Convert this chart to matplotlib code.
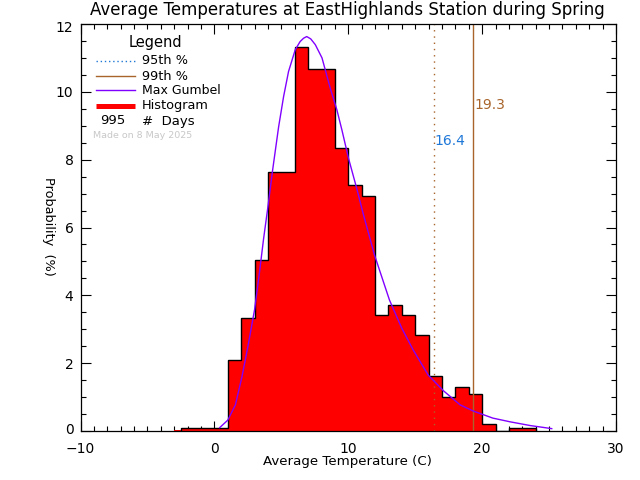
import matplotlib
matplotlib.use("Agg")
import matplotlib.pyplot as plt
from matplotlib.ticker import MultipleLocator
from matplotlib.transforms import ScaledTranslation

title = "Average Temperatures at EastHighlands Station during Spring"
bin_edges = [-3, -2.5, -2, -1, 0, 1, 2, 3, 4, 5, 6, 7, 8, 9, 10, 11, 12, 13, 14, 15, 16, 17, 18, 19, 20, 21, 22, 23, 24]
hist_vals = [0.03, 0.1, 0.1, 0.1, 0.1, 2.1, 3.32, 5.03, 7.64, 7.64, 11.32, 10.66, 10.66, 8.35, 7.24, 6.94, 3.42, 3.72, 3.42, 2.82, 1.61, 1.0, 1.3, 1.1, 0.2, 0.0, 0.1, 0.1]
gumbel_x = [0.4, 1.0, 1.57, 2.06, 2.5, 3.0, 3.36, 3.68, 4.0, 4.35, 4.8, 5.17, 5.54, 6.04, 6.4, 6.66, 6.9, 7.2, 7.54, 8.04, 8.66, 9.15, 9.53, 10.02, 10.6, 11.14, 11.96, 13.08, 14.0, 14.85, 15.97, 17.1, 18.36, 19.33, 20.8, 22.1, 23.6, 25.2]
gumbel_y = [0.1, 0.32, 0.77, 1.6, 2.48, 3.57, 4.65, 5.68, 6.61, 7.69, 8.97, 9.86, 10.6, 11.24, 11.48, 11.58, 11.63, 11.56, 11.39, 11.0, 10.1, 9.47, 8.87, 8.04, 7.2, 6.37, 5.19, 3.86, 3.03, 2.39, 1.65, 1.19, 0.77, 0.59, 0.38, 0.27, 0.16, 0.07]
p95, p99 = 16.4, 19.3
n_days = 995
made_on = "Made on 8 May 2025"
xlabel = "Average Temperature (C)"
ylabel = "Probability  (%)"

C95 = "#1f78d8"
C99 = "#a8642a"
PURPLE = "#8000ff"

W, H = 640, 480
fig = plt.figure(figsize=(6.4, 4.8), dpi=100)
L, R, T, B = 80.5, 616, 24, 431
ax = fig.add_axes([L / W, 1 - B / H, (R - L) / W, (B - T) / H])
ax.set_xlim(-10, 30)
ax.set_ylim(0, 12)

ax.stairs(hist_vals, bin_edges, fill=True, color="#ff0000", lw=0, zorder=2)
ax.stairs(hist_vals[1:], bin_edges[1:], fill=False, color="black", lw=1.0, zorder=3, baseline=0)
ax.axvline(p95, color=C99, ls=(0, (1, 3.5)), lw=1.0, zorder=4)
ax.axvline(p99, color=C99, lw=1.0, zorder=4)
ax.plot(gumbel_x, gumbel_y, color=PURPLE, lw=1.0, zorder=5)

ax.xaxis.set_major_locator(MultipleLocator(10))
ax.xaxis.set_minor_locator(MultipleLocator(1))
ax.yaxis.set_major_locator(MultipleLocator(2))
ax.yaxis.set_minor_locator(MultipleLocator(0.5))
ax.tick_params(which="major", length=7.5, width=0.8, top=True, right=True, direction="in", labelsize=10, pad=5)
ax.tick_params(which="minor", length=3.5, width=0.8, top=True, right=True, direction="in")
ax.tick_params(axis="x", which="major", pad=8)
for s in ax.spines.values():
    s.set_linewidth(0.9)
    s.set_zorder(6)
fig.canvas.draw()
for lab in ax.get_yticklabels():
    shift = {"0": 3, "12": -3}.get(lab.get_text(), 0)
    if shift:
        lab.set_transform(lab.get_transform() + ScaledTranslation(0, shift / 100, fig.dpi_scale_trans))

fig.text(347.5 / W, 1 - 10 / H, title, ha="center", va="center", fontsize=11.95, color="black")
fig.text(347 / W, 1 - 462 / H, xlabel, ha="center", va="center", fontsize=9.6)
fig.text(48 / W, 1 - 226.5 / H, ylabel, ha="center", va="center", rotation=270, fontsize=9.3)

def px(x, y):
    return x / W, 1 - y / H

def ftext(x, y, s, **kw):
    fig.text(*px(x, y), s, va="center", **kw)

def fline(x0, x1, y, **kw):
    fig.add_artist(plt.Line2D([x0 / W, x1 / W], [1 - y / H, 1 - y / H], **kw))

ftext(129, 43, "Legend", fontsize=10.5)
fline(96, 135, 61, color=C95, ls=(0, (1, 2)), lw=1)
ftext(142, 61, "95th %", fontsize=9.3)
fline(96, 135, 76, color=C99, lw=1)
ftext(142, 76, "99th %", fontsize=9.3)
fline(96, 135, 90, color=PURPLE, lw=1)
ftext(142, 91, "Max Gumbel", fontsize=9.0)
fline(96, 135, 106, color="#ff0000", lw=3.6, solid_capstyle="butt")
ftext(142, 106, "Histogram", fontsize=9.3)
ftext(100, 121, str(n_days), fontsize=9.5)
ftext(142, 121, "#  Days", fontsize=9.5)
ftext(93, 136, made_on, fontsize=6.8, color="#c8c8c8")

ftext(434, 141, f"{p95:.1f}", fontsize=10, color=C95)
ftext(474, 105, f"{p99:.1f}", fontsize=10, color=C99)

fig.savefig("out.png", dpi=100)
